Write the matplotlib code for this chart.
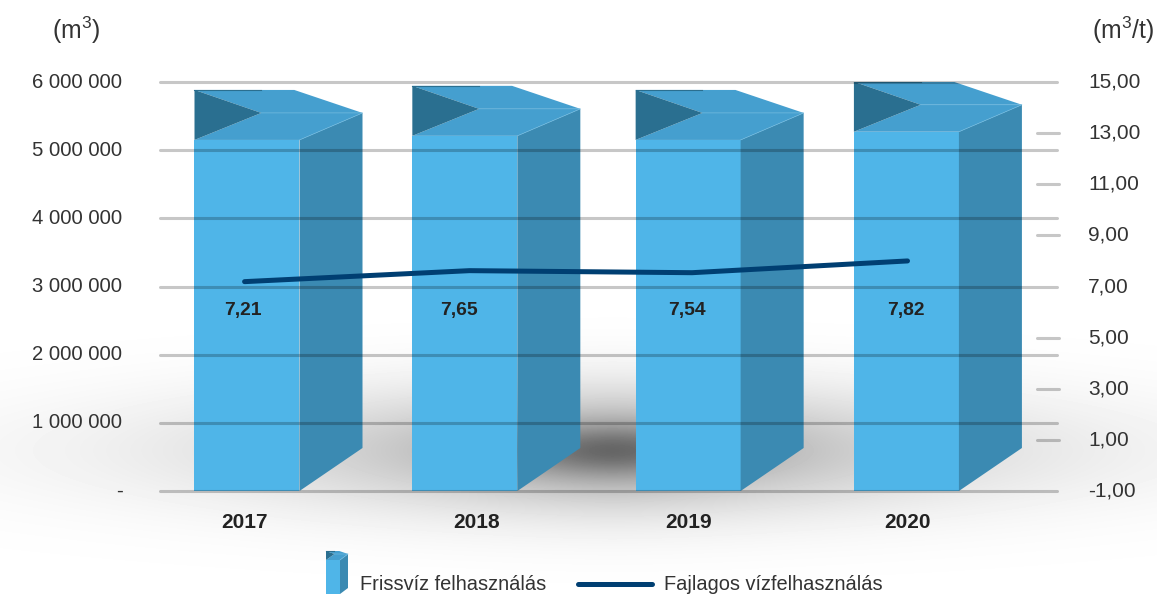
import numpy as np
import matplotlib
matplotlib.use('Agg')
import matplotlib.pyplot as plt

plt.rcParams['font.family'] = ['Liberation Sans', 'DejaVu Sans']
plt.rcParams['mathtext.default'] = 'regular'

years = ['2017', '2018', '2019', '2020']
water_use = [5150000, 5210000, 5150000, 5270000]
specific_use = [7.19, 7.62, 7.54, 8.00]
value_labels = ['7,21', '7,65', '7,54', '7,82']
left_ticks = [0, 1000000, 2000000, 3000000, 4000000, 5000000, 6000000]
left_labels = ['-', '1 000 000', '2 000 000', '3 000 000', '4 000 000', '5 000 000', '6 000 000']
right_ticks = [-1, 1, 3, 5, 7, 9, 11, 13, 15]
right_labels = ['-1,00', '1,00', '3,00', '5,00', '7,00', '9,00', '11,00', '13,00', '15,00']
short_ticks = [1, 3, 5, 9, 11, 13]

# the original is not evenly spaced, small shifts per category (in category units)
bar_shift = [0.0, -0.009, 0.007, 0.0]
line_shift = [-0.011, 0.012, 0.025, 0.005]
year_shift = [-0.011, 0.045, 0.007, 0.005]
value_shift = [-0.02, -0.036, 0.0, -0.004]

TEXT = '#333333'
FRONT = '#4fb5e8'
SIDE = '#3b8ab2'
TOP = '#459fcf'
DARK = '#2a6f90'
EDGE = '#6db8de'


def box(a, left, width, base, top, dx, dy_top, dy_base, lid):
    # 3D looking column with an open lid, all sizes in the units of a
    right = left + width
    a.bar(left + width / 2, top - base, width, base, color=FRONT, zorder=1)
    a.fill([right, right + dx, right + dx, right],
           [base, base + dy_base, top + dy_top, top], color=SIDE, lw=0, zorder=1)
    a.fill([left, right, right + dx, left + dx * 1.06],
           [top, top, top + dy_top, top + dy_top], color=TOP, lw=0, zorder=1)
    a.fill([left, right - width * 0.05, right + dx, left + dx * 1.06],
           [top + lid, top + lid, top + dy_top, top + dy_top], color=TOP, lw=0, zorder=1)
    a.fill([left, left + dx * 1.06, left],
           [top + lid, top + dy_top, top], color=DARK, lw=0, zorder=1)
    a.plot([left, left + dx * 1.06], [top + lid, top + lid], color=DARK, lw=0.8, zorder=1)
    a.plot([left + dx * 1.06, right + dx, right],
           [top + dy_top, top + dy_top, top], color=EDGE, lw=0.5, zorder=1)


fig = plt.figure(figsize=(11.57, 5.94), dpi=100)

# background: soft floor shadow, and the legend, in pixel units
bg = fig.add_axes([0, 0, 1, 1])
bg.set_xlim(0, 1157)
bg.set_ylim(594, 0)
bg.axis('off')
xx, yy = np.meshgrid(np.arange(1157), np.arange(594))
ddx = xx - 612
ddy = yy - 450
shade = (0.30 * np.exp(-(np.abs(ddx / 330) ** 1.5 + (ddy / 60) ** 2))
         + 0.26 * np.exp(-((ddx / 110) ** 2 + (ddy / 25) ** 2))
         + 0.04 * np.exp(-((ddx / 560) ** 2 + (ddy / 75) ** 2)))
bg.imshow(1 - shade, cmap='gray', vmin=0, vmax=1, extent=[0, 1157, 594, 0], aspect='auto', zorder=0)

box(bg, 326, 14, 594, 560, 8, -6, -6, -9)
bg.plot([578, 652], [584, 584], color='#003f72', lw=3.6, solid_capstyle='round')
bg.text(360, 584, 'Frissvíz felhasználás', fontsize=14.4, color=TEXT, va='center')
bg.text(664, 584, 'Fajlagos vízfelhasználás', fontsize=14.4, color=TEXT, va='center')
bg.text(76, 30, '(m$^{3}$)', fontsize=17.8, color=TEXT, ha='center', va='center')
bg.text(1123, 30, '(m$^{3}$/t)', fontsize=17.8, color=TEXT, ha='center', va='center')

ax = fig.add_axes([160 / 1157, (594 - 491) / 594, 897 / 1157, 409 / 594])
ax.patch.set_visible(False)

PX_X = 1 / 219.8
PX_Y = 6000000 / 409
x = np.arange(len(years))

for i, v in enumerate(water_use):
    box(ax, x[i] + bar_shift[i] - 52.5 * PX_X, 105 * PX_X, 0, v,
        63 * PX_X, 27 * PX_Y, 43 * PX_Y, 50 * PX_Y)

ax.set_xlim(-0.3958, 3.6851)
ax.set_ylim(0, 6000000)
ax.set_xticks(x + np.array(year_shift))
ax.set_xticklabels(years, fontsize=15, fontweight='bold', color='#222222')
ax.set_yticks(left_ticks)
ax.set_yticklabels(left_labels, fontsize=14.6, color=TEXT, va='center')
ax.tick_params(axis='y', length=0, pad=27)
ax.tick_params(axis='x', length=0, pad=16)
ax.set_axisbelow(False)
ax.yaxis.grid(True, color='black', lw=2.2, alpha=0.22, solid_capstyle='round')
for g in ax.get_ygridlines():
    g.set_clip_on(False)
for s in ax.spines.values():
    s.set_visible(False)

ax2 = ax.twinx()
ax2.set_ylim(-1, 15)
ax2.set_yticks(right_ticks)
ax2.set_yticklabels(right_labels, fontsize=15, color=TEXT, va='center')
ax2.tick_params(axis='y', length=0, pad=22.5)
for s in ax2.spines.values():
    s.set_visible(False)

ax2.hlines(short_ticks, 3.5941, 3.6942, color='black', lw=2.2, alpha=0.22, capstyle='round', clip_on=False)
ax2.plot(x + np.array(line_shift), specific_use, color='#003f72', lw=3.6, solid_capstyle='round')
for i, lab in enumerate(value_labels):
    ax2.text(x[i] + value_shift[i], 6.05, lab, fontsize=13.9, fontweight='bold',
             color='#222222', ha='center', va='center')

fig.savefig('out.png', dpi=100)
